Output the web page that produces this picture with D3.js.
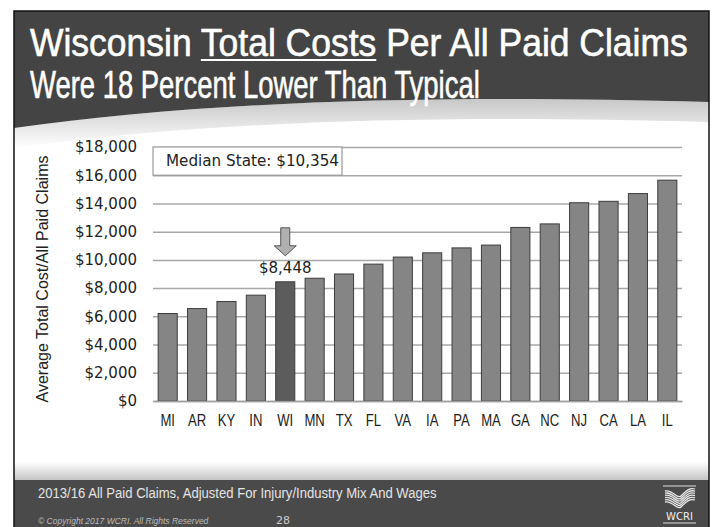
<html>
  <head>
    <script src="https://d3js.org/d3.v7.min.js"></script>
    <style>
      body { margin: 0; background: white; }
      .grid line { stroke: #a8a8a8; stroke-width: 1.5; }
      .grid path { display: none; }
    </style>
  </head>
  <body>
    <script type="text/javascript">
      // input data
      var states = ["MI", "AR", "KY", "IN", "WI", "MN", "TX", "FL", "VA", "IA", "PA", "MA", "GA", "NC", "NJ", "CA", "LA", "IL"];
      var costs = [6200, 6550, 7050, 7500, 8448, 8700, 9000, 9700, 10200, 10500, 10850, 11050, 12300, 12550, 14050, 14150, 14700, 15650];
      var yTicks = [0, 2000, 4000, 6000, 8000, 10000, 12000, 14000, 16000, 18000];
      var highlight = "WI";
      var medianLabel = "Median State: $10,354";
      var titleLine1 = "Wisconsin Total Costs Per All Paid Claims";
      var titleLine2 = "Were 18 Percent Lower Than Typical";
      var underlined = "Total Costs";

      var width = 714, height = 527;
      var svg = d3.select("body").append("svg")
        .attr("width", width)
        .attr("height", height);

      var defs = svg.append("defs");
      var g1 = defs.append("linearGradient").attr("id", "shadeTop").attr("x1", 0).attr("y1", 0).attr("x2", 0).attr("y2", 1);
      g1.append("stop").attr("offset", "0%").attr("stop-color", "#c8c8c8");
      g1.append("stop").attr("offset", "100%").attr("stop-color", "#ffffff");
      var g2 = defs.append("linearGradient").attr("id", "shadeBottom").attr("x1", 0).attr("y1", 0).attr("x2", 0).attr("y2", 1);
      g2.append("stop").attr("offset", "0%").attr("stop-color", "#ffffff");
      g2.append("stop").attr("offset", "100%").attr("stop-color", "#c4c4c4");

      // squeeze a text horizontally so it is exactly w wide
      function fitText(sel, x0, y0, w) {
        var natural = sel.node().getComputedTextLength();
        var sx = w / natural;
        sel.attr("transform", "translate(" + x0 + "," + y0 + ") scale(" + sx + ",1)");
        return sx;
      }

      // slide background
      svg.append("rect")
        .attr("x", 14).attr("y", 11)
        .attr("width", 695).attr("height", 520)
        .attr("fill", "white");

      // title band with curved bottom + soft shadow
      svg.append("path")
        .attr("d", "M14,128 C200,102 420,94 709,102 L709,122 C420,114 200,122 14,148 Z")
        .attr("fill", "url(#shadeTop)");
      svg.append("path")
        .attr("d", "M14,11 L709,11 L709,102 C420,94 200,102 14,128 Z")
        .attr("fill", "#444444");

      var sansFont = "'Liberation Sans', Arial, sans-serif";
      var t1 = svg.append("text")
        .attr("font-family", sansFont)
        .attr("font-size", 38)
        .attr("fill", "white")
        .attr("stroke", "white")
        .attr("stroke-width", 0.6)
        .text(titleLine1);
      var sx1 = fitText(t1, 30, 56, 658);
      // underline for "Total Costs"
      var uStart = titleLine1.indexOf(underlined);
      var uEnd = uStart + underlined.length - 1;
      var node = t1.node();
      var ux1 = 30 + sx1 * node.getStartPositionOfChar(uStart).x;
      var ux2 = 30 + sx1 * node.getEndPositionOfChar(uEnd).x;
      svg.append("line")
        .attr("x1", ux1).attr("x2", ux2)
        .attr("y1", 60).attr("y2", 60)
        .attr("stroke", "white")
        .attr("stroke-width", 2);

      var t2 = svg.append("text")
        .attr("font-family", sansFont)
        .attr("font-size", 38)
        .attr("fill", "white")
        .attr("stroke", "white")
        .attr("stroke-width", 0.6)
        .text(titleLine2);
      fitText(t2, 30, 98, 450);

      // footer band
      svg.append("rect")
        .attr("x", 14).attr("y", 462)
        .attr("width", 695).attr("height", 18)
        .attr("fill", "url(#shadeBottom)");
      svg.append("rect")
        .attr("x", 14).attr("y", 480)
        .attr("width", 695).attr("height", 50)
        .attr("fill", "#4a4a4a");
      var foot = svg.append("text")
        .attr("font-family", sansFont)
        .attr("font-size", 15)
        .attr("fill", "#e4e4e4")
        .text("2013/16 All Paid Claims, Adjusted For Injury/Industry Mix And Wages");
      fitText(foot, 38, 498, 399);
      svg.append("text")
        .attr("x", 38).attr("y", 524)
        .attr("font-family", sansFont)
        .attr("font-style", "italic")
        .attr("font-size", 8.5)
        .attr("fill", "#bbbbbb")
        .text("© Copyright 2017 WCRI. All Rights Reserved");
      svg.append("text")
        .attr("x", 283).attr("y", 524)
        .attr("text-anchor", "middle")
        .attr("font-family", "'DejaVu Sans', sans-serif")
        .attr("font-size", 11)
        .attr("fill", "#cccccc")
        .text("28");

      // WCRI logo
      var logo = svg.append("g").attr("transform", "translate(663,486)");
      logo.append("line").attr("x1", 0).attr("x2", 33).attr("y1", 0).attr("y2", 0).attr("stroke", "#dddddd").attr("stroke-width", 1.2);
      for (var i = 0; i < 6; i++) {
        logo.append("path")
          .attr("d", "M2," + (5 + i * 2.2) + " C10," + (3 + i * 2.2) + " 14," + (14 + i * 2.2) + " 18," + (10 + i * 2.2) + " S26," + (1 + i * 2.2) + " 32," + (3 + i * 2.2))
          .attr("fill", "none")
          .attr("stroke", "#e8e8e8")
          .attr("stroke-width", 1.3);
      }
      logo.append("text")
        .attr("x", 16.5).attr("y", 34)
        .attr("text-anchor", "middle")
        .attr("font-family", "'DejaVu Sans', sans-serif")
        .attr("font-size", 10)
        .attr("fill", "#eeeeee")
        .text("WCRI");
      logo.append("line").attr("x1", 0).attr("x2", 33).attr("y1", 37).attr("y2", 37).attr("stroke", "#dddddd").attr("stroke-width", 1.2);

      // slide border
      svg.append("rect")
        .attr("x", 14).attr("y", 11)
        .attr("width", 695).attr("height", 520)
        .attr("fill", "none")
        .attr("stroke", "#111111")
        .attr("stroke-width", 1.5);

      // chart
      var plot = { left: 153, right: 682, top: 147, bottom: 401 };

      var x = d3.scaleBand()
        .domain(states)
        .range([plot.left, plot.right])
        .paddingInner(0.35)
        .paddingOuter(0.175);

      var y = d3.scaleLinear()
        .domain([0, 18000])
        .range([plot.bottom, plot.top]);

      var chartFont = "'DejaVu Sans', sans-serif";

      // gridlines + y tick labels
      var yAxis = d3.axisLeft(y)
        .tickValues(yTicks)
        .tickSize(-(plot.right - plot.left))
        .tickPadding(16)
        .tickFormat(function (d) { return "$" + d3.format(",")(d); });
      var yG = svg.append("g")
        .attr("class", "grid")
        .attr("transform", "translate(" + plot.left + ",0)")
        .call(yAxis);
      yG.selectAll("text")
        .attr("font-family", chartFont)
        .attr("font-size", 15)
        .attr("fill", "#222222");

      // median box
      svg.append("rect")
        .attr("x", plot.left).attr("y", y(18000))
        .attr("width", 189).attr("height", y(16000) - y(18000))
        .attr("fill", "white")
        .attr("stroke", "#9a9a9a")
        .attr("stroke-width", 1.2);
      svg.append("text")
        .attr("x", plot.left + 13).attr("y", y(17000) + 5)
        .attr("font-family", chartFont)
        .attr("font-size", 15.2)
        .attr("fill", "#222222")
        .text(medianLabel);

      // bars
      svg.selectAll(".bar")
        .data(states)
        .enter().append("rect")
        .attr("class", "bar")
        .attr("x", function (d) { return x(d); })
        .attr("y", function (d, i) { return y(costs[i]); })
        .attr("width", x.bandwidth())
        .attr("height", function (d, i) { return y(0) - y(costs[i]); })
        .attr("fill", function (d) { return d == highlight ? "#5c5c5c" : "#858585"; })
        .attr("stroke", "#3c3c3c")
        .attr("stroke-width", 1);

      // x axis
      var xAxis = d3.axisBottom(x).tickSize(0).tickPadding(14);
      var xG = svg.append("g")
        .attr("transform", "translate(0," + plot.bottom + ")")
        .call(xAxis);
      xG.select("path").attr("stroke", "#a0a0a0").attr("stroke-width", 1.5);
      xG.selectAll("text")
        .attr("font-family", sansFont)
        .attr("font-size", 16)
        .attr("transform", "scale(0.82,1)")
        .attr("fill", "#222222");

      // y axis title
      svg.append("text")
        .attr("transform", "translate(48," + ((plot.top + plot.bottom) / 2 + 5) + ") rotate(-90)")
        .attr("text-anchor", "middle")
        .attr("font-family", sansFont)
        .attr("font-size", 16)
        .attr("fill", "#222222")
        .attr("textLength", 247)
        .attr("lengthAdjust", "spacingAndGlyphs")
        .text("Average Total Cost/All Paid Claims");

      // highlight arrow + value label
      var wiIndex = states.indexOf(highlight);
      var cx = x(highlight) + x.bandwidth() / 2;
      var valueY = y(costs[wiIndex]);
      svg.append("text")
        .attr("x", cx).attr("y", valueY - 9)
        .attr("text-anchor", "middle")
        .attr("font-family", chartFont)
        .attr("font-size", 15)
        .attr("fill", "#222222")
        .text("$" + d3.format(",")(costs[wiIndex]));
      var tip = valueY - 26;
      svg.append("path")
        .attr("d", "M" + (cx - 4.5) + "," + (tip - 28) + " L" + (cx + 4.5) + "," + (tip - 28) +
          " L" + (cx + 4.5) + "," + (tip - 10) + " L" + (cx + 11) + "," + (tip - 10) +
          " L" + cx + "," + tip + " L" + (cx - 11) + "," + (tip - 10) +
          " L" + (cx - 4.5) + "," + (tip - 10) + " Z")
        .attr("fill", "#b0b0b0")
        .attr("stroke", "#555555")
        .attr("stroke-width", 1);
    </script>
  </body>
</html>
